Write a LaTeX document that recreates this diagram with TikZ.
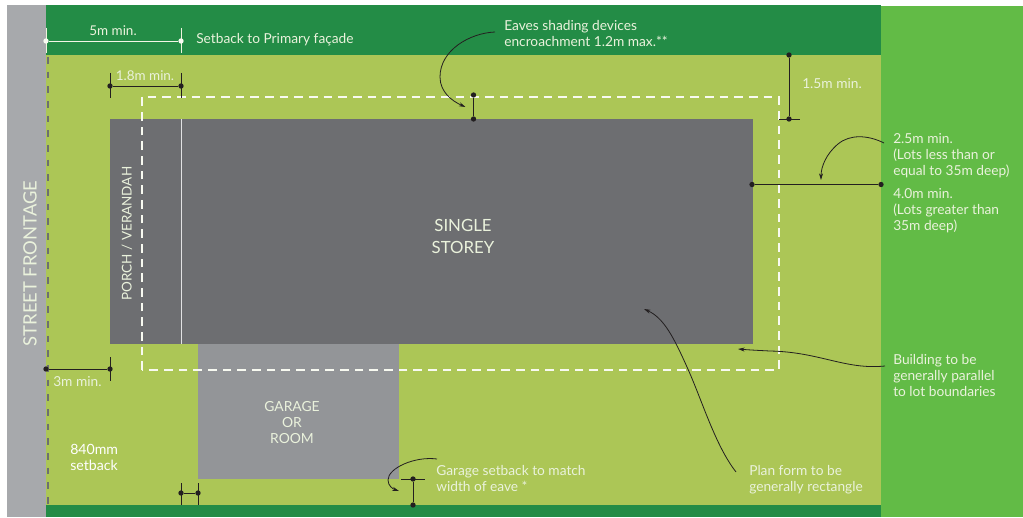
\documentclass[tikz,border=0pt]{standalone}
\usepackage{fontspec}
\setmainfont{Lato}
\usetikzlibrary{arrows.meta}
\definecolor{road}{HTML}{A7A9AC}
\definecolor{darkgrn}{HTML}{238C46}
\definecolor{sidegrn}{HTML}{62BB46}
\definecolor{lawn}{HTML}{ACC656}
\definecolor{house}{HTML}{6D6E71}
\definecolor{garage}{HTML}{939598}
\definecolor{inkc}{HTML}{231F20}
\definecolor{txt}{HTML}{EAF2DC}
\tikzset{
  lbl/.style={text=txt,font=\fontsize{10.3}{12}\selectfont,anchor=west,align=left,inner sep=0pt},
  midlbl/.style={text=txt,font=\fontsize{10.1}{12}\selectfont,align=center,inner sep=0pt},
  blackdot/.style={circle,fill=inkc,inner sep=0pt,minimum size=4pt},
  whitedot/.style={circle,fill=white!92!lawn,inner sep=0pt,minimum size=4pt},
  dimblack/.style={draw=inkc,line width=0.7pt},
  dimwhite/.style={draw=white!85!lawn,line width=0.7pt},
  tick/.style={draw=inkc,line width=0.6pt},
  whitetick/.style={draw=white!80!lawn,line width=0.7pt},
  lead/.style={draw=inkc,line width=0.6pt,-{Stealth[length=5pt,width=3pt]}},
  envelope/.style={draw=white!92!lawn,line width=0.8pt,dash pattern=on 6.5pt off 4.5pt},
  boundary/.style={draw=house,line width=1.1pt,dash pattern=on 5pt off 6pt},
}
\begin{document}
\begin{tikzpicture}[x=0.75pt,y=-0.75pt]
\useasboundingbox (0,0) rectangle (1023,517);
\fill[white] (0,0) rectangle (1023,517);
% ground
\fill[road] (7,5) rectangle (46,517);
\fill[darkgrn] (46,5) rectangle (881,55);
\fill[sidegrn] (881,6) rectangle (1023,517);
\fill[lawn] (46,55) rectangle (881,505);
\fill[darkgrn] (46,505) rectangle (881,517);
% buildings
\fill[house] (110,119) rectangle (753,344);
\fill[garage] (198,344) rectangle (399,479);
\draw[white!80!house,line width=0.7pt] (181,119) -- (181,344);
% envelope and street boundary
\draw[envelope] (142,370) -- (142,97) -- (779,97) -- (779,370) -- cycle;
\draw[boundary] (48,57) -- (48,505);
% ticks
\draw[whitetick] (46,28) -- (46,53) (181,28) -- (181,53);
\draw[tick] (110,73) -- (110,98) (181,73) -- (181,98);
\draw[tick] (110,357) -- (110,381);
\draw[tick] (181,483) -- (181,505) (198,483) -- (198,505);
\draw[tick] (401,479) -- (425,479);
\draw[tick] (779,119) -- (800,119);
% dimension end points
\node[whitedot] (a1) at (46,41) {}; \node[whitedot] (a2) at (181,41) {};
\node[blackdot] (b1) at (110,86) {}; \node[blackdot] (b2) at (181,86) {};
\node[blackdot] (c1) at (46,369) {}; \node[blackdot] (c2) at (110,369) {};
\node[blackdot] (d1) at (181,493) {}; \node[blackdot] (d2) at (198,493) {};
\node[blackdot] (e1) at (413,479) {}; \node[blackdot] (e2) at (413,505) {};
\node[blackdot] (f1) at (473.5,95) {}; \node[blackdot] (f2) at (473.5,119) {};
\node[blackdot] (g1) at (789,55) {}; \node[blackdot] (g2) at (789,119) {};
\node[blackdot] (h1) at (752,184.5) {}; \node[blackdot] (h2) at (881,184.5) {};
% dimensions
\draw[dimwhite] (a1) -- (a2);
\draw[dimblack] (b1) -- (b2);
\draw[dimblack] (c1) -- (c2);
\draw[dimblack] (d1) -- (d2);
\draw[dimblack] (e1) -- (e2);
\draw[dimblack] (f1) -- (f2);
\draw[dimblack] (g1) -- (g2);
\draw[dimblack] (h1) -- (h2);
% texts
\node[midlbl] (t5m) at (113,31) {5m min.};
\node[lbl] (tset) at (196,40) {Setback to Primary façade};
\node[midlbl] (t18) at (145,76) {1.8m min.};
\node[lbl,anchor=north west] (teave) at (504,20) {Eaves shading devices\\encroachment 1.2m max.**};
\node[lbl] (t15) at (802,84) {1.5m min.};
\node[lbl,anchor=north west] (t25) at (893,133) {2.5m min.\\(Lots less than or\\equal to 35m deep)};
\node[lbl,anchor=north west] (t40) at (893,188) {4.0m min.\\(Lots greater than\\35m deep)};
\node[midlbl,font=\fontsize{12.6}{16.5}\selectfont] (tsingle) at (463,236) {SINGLE\\STOREY};
\node[midlbl,rotate=90] (tporch) at (127,233.5) {PORCH / VERANDAH};
\node[midlbl,rotate=90,font=\fontsize{13.8}{16}\selectfont] (tstreet) at (30,263.5) {STREET FRONTAGE};
\node[midlbl,font=\fontsize{10.4}{12}\selectfont] (tgar) at (292,422.5) {GARAGE\\OR\\ROOM};
\node[lbl] (t3m) at (53,382) {3m min.};
\node[lbl,anchor=north west,text=white,font=\fontsize{10.6}{12.3}\selectfont] (t840) at (70,444) {840mm\\setback};
\node[lbl,anchor=north west] (tgs) at (436,465.5) {Garage setback to match\\width of eave *};
\node[lbl,anchor=north west] (tplan) at (749,465.5) {Plan form to be\\generally rectangle};
\node[lbl,anchor=north west] (tbld) at (893,354) {Building to be\\generally parallel\\to lot boundaries};
% leaders
\coordinate (l1s) at (495,32); \coordinate (l1e) at (465.5,107);
\coordinate (l2s) at (884,143); \coordinate (l2e) at (821,180);
\coordinate (l3s) at (885,366); \coordinate (l3e) at (738,349);
\coordinate (l4s) at (736,472); \coordinate (l4e) at (644,309);
\coordinate (l5s) at (437,459); \coordinate (l5e) at (399,491);
\draw[lead] (l1s) .. controls (470,33) and (440,50) .. (440,77) .. controls (440,92) and (452,101) .. (l1e);
\draw[lead] (l2s) .. controls (868,135) and (850,134) .. (838,144) .. controls (826,154) and (821,167) .. (l2e);
\draw[lead] (l3s) .. controls (845,370) and (820,352) .. (770,351) .. controls (760,350.5) and (750,350) .. (l3e);
\draw[lead] (l4s) .. controls (715,445) and (702,400) .. (687,367) .. controls (674,338) and (664,318) .. (l4e);
\draw[lead] (l5s) .. controls (415,456) and (388,468) .. (388,480) .. controls (388,486) and (393,489) .. (l5e);
\end{tikzpicture}
\end{document}
